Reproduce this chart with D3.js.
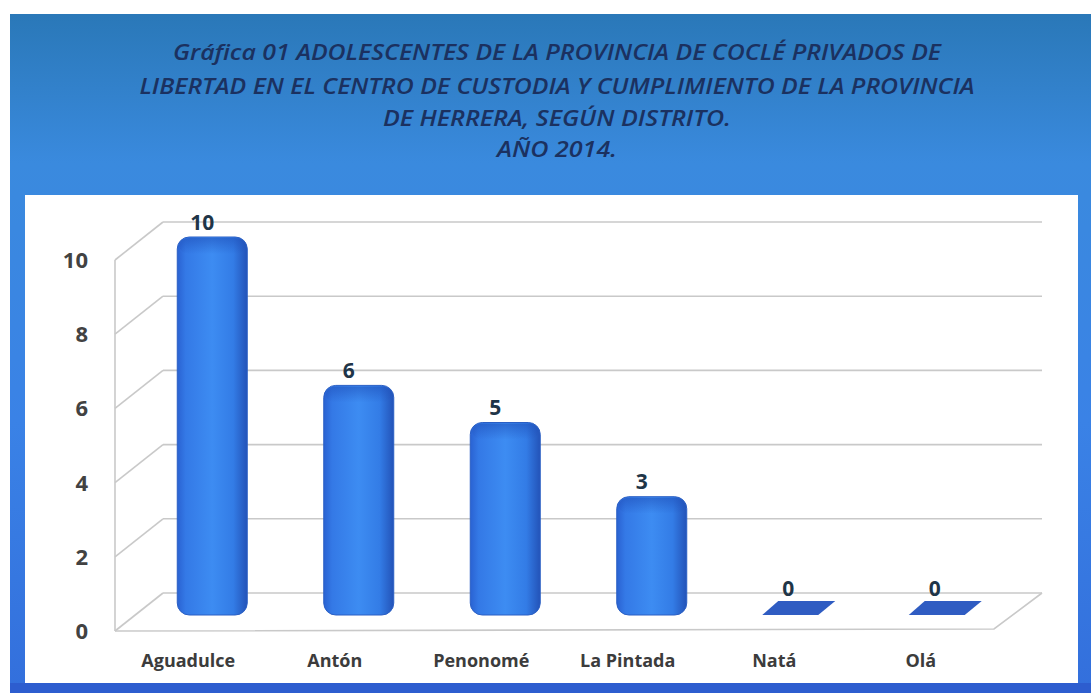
<!DOCTYPE html>
<html>
<head>
<meta charset="utf-8">
<script src="https://cdn.jsdelivr.net/npm/d3@7"></script>
<style>
  html, body { margin: 0; padding: 0; background: #fff; }
  svg { display: block; }
</style>
</head>
<body>
<div id="chart"></div>
<script>
var categories = ["Aguadulce", "Antón", "Penonomé", "La Pintada", "Natá", "Olá"];
var values = [10, 6, 5, 3, 0, 0];
var yTicks = [0, 2, 4, 6, 8, 10];
var titleLines = [
  "Gráfica 01  ADOLESCENTES DE LA PROVINCIA DE COCLÉ PRIVADOS DE",
  "LIBERTAD EN EL CENTRO DE CUSTODIA Y CUMPLIMIENTO DE LA PROVINCIA",
  "DE HERRERA, SEGÚN DISTRITO.",
  "AÑO 2014."
];

var width = 1091,
  height = 693;

// 3D look: back wall plane plus an offset for the front plane
var depth = {dx: -48, dy: 38};

var svg = d3.select("#chart").append("svg")
  .attr("width", width)
  .attr("height", height);

var defs = svg.append("defs");

var bg = defs.append("linearGradient")
  .attr("id", "bg").attr("x1", 0).attr("y1", 0).attr("x2", 0).attr("y2", 1);
bg.append("stop").attr("offset", "0%").attr("stop-color", "#2a78b8");
bg.append("stop").attr("offset", "22%").attr("stop-color", "#3a8ade");
bg.append("stop").attr("offset", "60%").attr("stop-color", "#3a82e6");
bg.append("stop").attr("offset", "100%").attr("stop-color", "#336fdc");

var barGrad = defs.append("linearGradient")
  .attr("id", "barGrad").attr("x1", 0).attr("y1", 0).attr("x2", 1).attr("y2", 0);
barGrad.append("stop").attr("offset", "0%").attr("stop-color", "#2a62d2");
barGrad.append("stop").attr("offset", "12%").attr("stop-color", "#3479e6");
barGrad.append("stop").attr("offset", "50%").attr("stop-color", "#3d8cf2");
barGrad.append("stop").attr("offset", "80%").attr("stop-color", "#337ce6");
barGrad.append("stop").attr("offset", "100%").attr("stop-color", "#2353b8");

var capGrad = defs.append("linearGradient")
  .attr("id", "capGrad").attr("x1", 0).attr("y1", 0).attr("x2", 0).attr("y2", 1);
capGrad.append("stop").attr("offset", "0%").attr("stop-color", "#1f4fb8").attr("stop-opacity", 0.55);
capGrad.append("stop").attr("offset", "100%").attr("stop-color", "#1f4fb8").attr("stop-opacity", 0);

// frame
svg.append("rect")
  .attr("x", 10).attr("y", 14)
  .attr("width", width - 10).attr("height", height - 14)
  .attr("fill", "url(#bg)");

svg.append("rect")
  .attr("x", 10).attr("y", 683)
  .attr("width", width - 10).attr("height", 10)
  .attr("fill", "#2d5dcf");

svg.append("rect")
  .attr("x", 25).attr("y", 195)
  .attr("width", 1053).attr("height", 488)
  .attr("fill", "#ffffff");

// title
var titleY = [60, 94, 126, 157],
  titleW = [768, 835, 348, 120];

svg.append("g").selectAll("text")
  .data(titleLines)
  .enter().append("text")
  .attr("x", 557)
  .attr("y", function (d, i) { return titleY[i]; })
  .attr("text-anchor", "middle")
  .attr("textLength", function (d, i) { return titleW[i]; })
  .attr("lengthAdjust", "spacingAndGlyphs")
  .style("font-family", "'Liberation Sans Narrow', 'Open Sans', sans-serif")
  .style("font-style", "italic")
  .style("font-weight", "600")
  .style("font-size", "21px")
  .style("fill", "#1b3160")
  .text(function (d) { return d; });

var y = d3.scaleLinear()
  .domain([0, 10])
  .range([593, 222]);

var x = d3.scaleBand()
  .domain(categories)
  .range([163, 1042]);

var plot = svg.append("g");

// back wall gridlines + side wall diagonals
var grid = plot.append("g")
  .attr("stroke", "#c9c9c9")
  .attr("stroke-width", 1.6)
  .attr("fill", "none");

grid.selectAll(".h")
  .data(yTicks)
  .enter().append("line")
  .attr("class", "h")
  .attr("x1", x.range()[0]).attr("x2", x.range()[1])
  .attr("y1", y).attr("y2", y);

grid.selectAll(".d")
  .data(yTicks)
  .enter().append("line")
  .attr("class", "d")
  .attr("x1", x.range()[0]).attr("y1", y)
  .attr("x2", x.range()[0] + depth.dx)
  .attr("y2", function (d) { return y(d) + depth.dy; });

// front left axis and floor edges
grid.append("line")
  .attr("x1", x.range()[0] + depth.dx).attr("x2", x.range()[0] + depth.dx)
  .attr("y1", y(10) + depth.dy).attr("y2", y(0) + depth.dy);

grid.append("polyline")
  .attr("points", [
    [x.range()[0] + depth.dx, y(0) + depth.dy],
    [x.range()[1] + depth.dx, y(0) + depth.dy - 2],
    [x.range()[1], y(0)]
  ].join(" "));

// y tick labels on front plane
plot.append("g").selectAll("text")
  .data(yTicks)
  .enter().append("text")
  .attr("x", 88)
  .attr("y", function (d) { return y(d) + depth.dy; })
  .attr("dy", "0.36em")
  .attr("text-anchor", "end")
  .style("font-family", "'Open Sans', sans-serif")
  .style("font-weight", "bold")
  .style("font-size", "22px")
  .style("fill", "#424242")
  .text(function (d) { return d; });

// category labels on front plane
plot.append("g").selectAll("text")
  .data(categories)
  .enter().append("text")
  .attr("x", function (d) { return x(d) + x.bandwidth() / 2 + depth.dx; })
  .attr("y", 667)
  .attr("text-anchor", "middle")
  .style("font-family", "'Open Sans', sans-serif")
  .style("font-weight", "bold")
  .style("font-size", "18px")
  .style("fill", "#3c3c3c")
  .text(function (d) { return d; });

// bars sit halfway into the depth
var midX = function (c) { return x(c) + x.bandwidth() / 2 + depth.dx / 2; },
  midY = function (v) { return y(v) + depth.dy / 2; },
  barW = 70;

var data = categories.map(function (c, i) { return {cat: c, value: values[i]}; });

var bars = plot.append("g").selectAll("g")
  .data(data)
  .enter().append("g");

bars.filter(function (d) { return d.value > 0; })
  .each(function (d) {
    var g = d3.select(this),
      top = midY(d.value) - 4,
      bottom = midY(0) + 3,
      left = midX(d.cat) - barW / 2;
    g.append("rect")
      .attr("x", left).attr("y", top)
      .attr("width", barW).attr("height", bottom - top)
      .attr("rx", 12).attr("ry", 12)
      .attr("fill", "url(#barGrad)")
      .attr("stroke", "#2a5fc4")
      .attr("stroke-width", 1);
    g.append("rect")
      .attr("x", left + 2).attr("y", top + 1)
      .attr("width", barW - 4).attr("height", 16)
      .attr("rx", 10).attr("ry", 8)
      .attr("fill", "url(#capGrad)");
  });

bars.filter(function (d) { return d.value === 0; })
  .append("polygon")
  .attr("points", function (d) {
    var cx = midX(d.cat), ty = midY(0) - 11, by = midY(0) + 3;
    return [[cx - 20, ty], [cx + 37, ty], [cx + 20, by], [cx - 36, by]].join(" ");
  })
  .attr("fill", "#2f5cc2");

// value labels
plot.append("g").selectAll("text")
  .data(data)
  .enter().append("text")
  .attr("x", function (d) { return midX(d.cat) - 10; })
  .attr("y", function (d) { return d.value === 0 ? y(0) - 5 : y(d.value); })
  .attr("dy", "0.36em")
  .attr("text-anchor", "middle")
  .style("font-family", "'Open Sans', sans-serif")
  .style("font-weight", "bold")
  .style("font-size", "21px")
  .style("fill", "#1f3548")
  .text(function (d) { return d.value; });
</script>
</body>
</html>
